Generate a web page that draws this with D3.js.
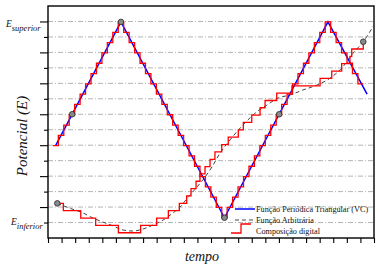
<!DOCTYPE html>
<html><head><meta charset="utf-8">
<script src="https://cdn.jsdelivr.net/npm/d3@7"></script>
<style>body{margin:0;background:#fff}svg{display:block}text{font-family:"Liberation Serif","DejaVu Serif",serif;fill:#111}</style>
</head><body>
<script>
// Data (time units = x ticks, potential units = y grid steps)
const xTickValues = d3.range(0, 25);
const yGridValues = d3.range(1, 15);
const triT = [0.56, 5.37, 12.99, 20.61, 23.49];
const triV = [5.97, 13.97, 1.31, 13.97, 9.3];
const arbT = [0.685,1.62,2.58,3.31,4.05,4.79,5.52,6.26,7.0,7.73,8.47,9.2,9.72,10.23,10.97,11.56,12.07,12.66,13.40,14.36,15.39,16.13,16.86,17.82,18.77,19.80,20.76,21.72,22.45,23.21,24.0];
const arbV = [2.24,1.92,1.62,1.29,1.03,0.78,0.52,0.45,0.58,0.84,1.16,1.62,2.0,2.55,3.30,3.94,4.59,5.48,6.34,7.31,8.17,8.60,9.02,9.25,9.57,9.89,10.33,11.08,11.94,12.69,13.77];
const digTriStart = 0.56, digTriStep = 0.401;
const digTriV = [5.97,6.64,7.30,7.97,8.64,9.30,9.97,10.63,11.30,11.97,12.63,13.30,13.97,
  13.30,12.63,11.97,11.30,10.63,9.97,9.30,8.64,7.97,7.30,6.64,5.97,5.31,4.64,3.97,3.31,2.64,1.98,1.31,
  1.98,2.64,3.31,3.97,4.64,5.31,5.97,6.64,7.30,7.97,8.64,9.30,9.97,10.63,11.30,11.97,12.63,13.30,13.97,
  13.30,12.63,11.97,11.30,10.63,9.97];
const digArbT = [0.685,1.13,2.41,3.51,5.18,6.82,8.00,8.86,9.67,10.21,10.53,10.90,11.19,11.56,11.93,12.29,12.79,13.27,14.01,14.38,15.00,15.61,15.98,16.84,17.96,20.03,20.89,21.62,22.23,22.36,23.21];
const digArbV = [2.24,1.77,1.29,0.82,0.34,0.82,1.29,1.77,2.24,2.72,3.19,3.67,4.14,4.62,5.09,5.57,6.04,6.52,6.99,7.47,7.94,8.42,8.89,9.37,9.84,10.32,10.79,11.27,11.74,12.22,12.69];
const markT = [5.37, 12.99, 1.78, 17.02, 0.685, 23.21];
const markV = [13.97, 1.31, 8.0, 8.0, 2.24, 12.69];
const legendLabels = ["Função Periódica Triangular (VC)", "Função Arbitrária", "Composição digital"];

const W = 382, H = 272;
const svg = d3.select("body").append("svg").attr("width", W).attr("height", H);
const x = d3.scaleLinear().domain([0, 24]).range([48, 374]);
const y = d3.scaleLinear().domain([0, 15]).range([238, 6]);

// grid
svg.append("g").selectAll("line").data(yGridValues).join("line")
  .attr("x1", x(0)).attr("x2", x(24)).attr("y1", d => y(d)).attr("y2", d => y(d))
  .attr("stroke", "#b4b4b4").attr("stroke-width", 1).attr("stroke-dasharray", "5,2,1,2");

// axes
const yMajor = svg.append("g").attr("transform", `translate(${x(0)},0)`)
  .call(d3.axisLeft(y).tickValues(yGridValues.filter(d => d % 2 === 0)).tickSize(8).tickFormat(""));
const yMinor = svg.append("g").attr("transform", `translate(${x(0)},0)`)
  .call(d3.axisLeft(y).tickValues(yGridValues.filter(d => d % 2 === 1)).tickSize(4).tickFormat(""));
const xAx = svg.append("g").attr("transform", `translate(0,${y(0)})`)
  .call(d3.axisBottom(x).tickValues(xTickValues).tickSize(5).tickFormat(""));
[yMajor, yMinor, xAx].forEach(g => { g.select(".domain").remove(); g.selectAll("line").attr("stroke", "#000").attr("stroke-width", 1.1); });

// frame
svg.append("rect").attr("x", x(0)).attr("y", y(15)).attr("width", x(24) - x(0)).attr("height", y(0) - y(15))
  .attr("fill", "none").attr("stroke", "#000").attr("stroke-width", 1.4);

// arbitrary function (dashed)
const line = d3.line().x(d => x(d[0])).y(d => y(d[1]));
svg.append("path").datum(arbT.map((t, i) => [t, arbV[i]]))
  .attr("d", line.curve(d3.curveMonotoneX)).attr("fill", "none").attr("stroke", "#444")
  .attr("stroke-width", 1).attr("stroke-dasharray", "4,3");

// triangle (blue)
svg.append("path").datum(triT.map((t, i) => [t, triV[i]]))
  .attr("d", d3.line().x(d => x(d[0])).y(d => y(d[1]))).attr("fill", "none").attr("stroke", "#0000ff").attr("stroke-width", 1.5);

// digital composition (red)
const stepLine = d3.line().x(d => x(d[0])).y(d => y(d[1])).curve(d3.curveStepAfter);
const triPts = digTriV.map((v, k) => [digTriStart + (k - 0.5) * digTriStep, v]);
triPts.push([digTriStart + (digTriV.length - 0.5) * digTriStep, digTriV[digTriV.length - 1]]);
svg.append("path").datum(triPts).attr("d", stepLine).attr("fill", "none").attr("stroke", "#ff0000").attr("stroke-width", 1.3);
svg.append("path").datum(digArbT.map((t, i) => [t, digArbV[i]])).attr("d", stepLine)
  .attr("fill", "none").attr("stroke", "#ff0000").attr("stroke-width", 1.3);

// markers
svg.append("g").selectAll("circle").data(markT.map((t, i) => [t, markV[i]])).join("circle")
  .attr("cx", d => x(d[0])).attr("cy", d => y(d[1])).attr("r", 2.8)
  .attr("fill", "#8a8a8a").attr("stroke", "#333").attr("stroke-width", 0.9);

// y labels
function eLabel(sub, v, xPos, dy) {
  const t = svg.append("text").attr("x", xPos).attr("y", y(v) + dy).attr("font-style", "italic");
  t.append("tspan").attr("font-size", 9.5).text("E");
  t.append("tspan").attr("font-size", 8.5).attr("dy", 4).text(sub);
}
eLabel("superior", 14, 6, 6);
eLabel("inferior", 1, 11, 2);

svg.append("text").attr("transform", `translate(27,${y(7.5) + 14}) rotate(-90)`).attr("text-anchor", "middle")
  .attr("font-style", "italic").attr("font-size", 15).text("Potencial (E)");
svg.append("text").attr("x", 202).attr("y", 261).attr("text-anchor", "middle")
  .attr("font-style", "italic").attr("font-size", 14).text("tempo");

// legend
const lg = svg.append("g");
lg.append("line").attr("x1", 235).attr("x2", 255).attr("y1", 209).attr("y2", 209).attr("stroke", "#0000ff").attr("stroke-width", 1.5);
lg.append("line").attr("x1", 235).attr("x2", 255).attr("y1", 220).attr("y2", 220).attr("stroke", "#444").attr("stroke-dasharray", "4,3");
lg.append("path").attr("d", "M231,233H241V224H251").attr("fill", "none").attr("stroke", "#ff0000").attr("stroke-width", 1.3);
lg.selectAll("text").data(legendLabels).join("text").attr("x", 256).attr("y", (d, i) => 212 + i * 11)
  .attr("font-size", 8.2).text(d => d);
</script>
</body></html>
